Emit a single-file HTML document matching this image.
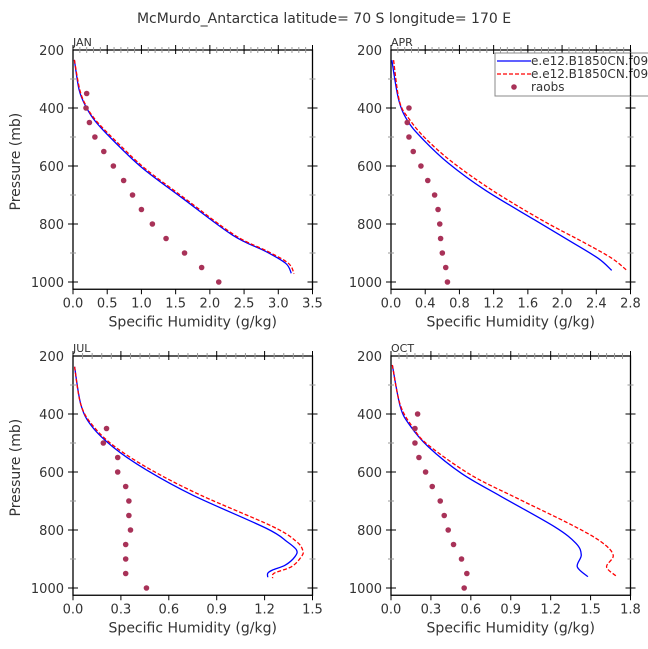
<!DOCTYPE html>
<html><head><meta charset="utf-8"><style>
html,body{margin:0;padding:0;background:#fff;}
svg{display:block;font-family:"DejaVu Sans","Liberation Sans",sans-serif;}
</style></head><body>
<svg id="chart" width="648" height="649" viewBox="0 0 648 649" xmlns="http://www.w3.org/2000/svg">
<text x="324" y="23" text-anchor="middle" font-size="14" fill="#333">McMurdo_Antarctica  latitude= 70 S longitude= 170 E</text>
</svg>
<script>
const months=["JAN","APR","JUL","OCT"];
const xMaxes=[3.5,2.8,1.5,1.8];
const xTickLabels=[["0.0","0.5","1.0","1.5","2.0","2.5","3.0","3.5"],["0.0","0.4","0.8","1.2","1.6","2.0","2.4","2.8"],["0.0","0.3","0.6","0.9","1.2","1.5"],["0.0","0.3","0.6","0.9","1.2","1.5","1.8"]];
const yTickLabels=[200,400,600,800,1000];
const janBlueQ=[0.02,0.09,0.19,0.33,0.63,1.02,1.6,2.33,2.82,3.11,3.19];
const janBlueP=[234,338,396,447,522,608,711,838,895,936,970];
const janRedQ=[0.02,0.1,0.2,0.35,0.66,1.05,1.63,2.36,2.85,3.15,3.23];
const janRedP=[234,338,396,447,522,608,711,838,895,936,972];
const janObsQ=[0.2,0.19,0.24,0.32,0.45,0.59,0.74,0.87,1.0,1.16,1.36,1.63,1.88,2.13];
const janObsP=[350,400,450,500,550,600,650,700,750,800,850,900,950,1000];
const aprBlueQ=[0.01,0.09,0.2,0.38,0.67,1.1,1.68,2.07,2.42,2.58];
const aprBlueP=[235,372,447,510,590,683,786,855,918,960];
const aprRedQ=[0.03,0.1,0.22,0.4,0.71,1.18,1.76,2.27,2.58,2.75];
const aprRedP=[235,378,441,504,585,683,786,866,918,958];
const aprObsQ=[0.21,0.19,0.21,0.26,0.35,0.43,0.51,0.55,0.57,0.58,0.6,0.64,0.66];
const aprObsP=[400,450,500,550,600,650,700,750,800,850,900,950,1000];
const julBlueQ=[0.01,0.05,0.12,0.26,0.46,0.75,1.21,1.34,1.4,1.39,1.33,1.25,1.22,1.22];
const julBlueP=[237,369,444,518,593,680,794,840,869,892,921,938,949,963];
const julRedQ=[0.01,0.05,0.13,0.27,0.5,0.8,1.25,1.4,1.44,1.43,1.37,1.26,1.25];
const julRedP=[237,369,444,516,596,680,788,840,872,892,926,949,966];
const julObsQ=[0.21,0.19,0.28,0.28,0.33,0.35,0.35,0.36,0.33,0.33,0.33,0.46];
const julObsP=[450,500,550,600,650,700,750,800,850,900,950,1000];
const octBlueQ=[0.01,0.07,0.14,0.28,0.53,0.83,1.23,1.39,1.43,1.4,1.48];
const octBlueP=[231,375,438,513,605,685,789,846,886,927,961];
const octRedQ=[0.01,0.07,0.17,0.28,0.6,0.95,1.36,1.58,1.67,1.62,1.69];
const octRedP=[231,369,450,507,610,691,783,841,887,927,958];
const octObsQ=[0.2,0.18,0.18,0.21,0.26,0.31,0.37,0.4,0.43,0.47,0.53,0.57,0.55];
const octObsP=[400,450,500,550,600,650,700,750,800,850,900,950,1000];
const blueQ=[janBlueQ,aprBlueQ,julBlueQ,octBlueQ], blueP=[janBlueP,aprBlueP,julBlueP,octBlueP];
const redQ=[janRedQ,aprRedQ,julRedQ,octRedQ], redP=[janRedP,aprRedP,julRedP,octRedP];
const obsQ=[janObsQ,aprObsQ,julObsQ,octObsQ], obsP=[janObsP,aprObsP,julObsP,octObsP];

const svg=document.getElementById('chart');
const NS='http://www.w3.org/2000/svg';
function mk(tag,attrs,parent){const e=document.createElementNS(NS,tag);for(const k in attrs)e.setAttribute(k,attrs[k]);(parent||svg).appendChild(e);return e;}
function smooth(pts){let d='M'+pts[0][0]+','+pts[0][1];
  for(let i=0;i<pts.length-1;i++){const p0=pts[Math.max(i-1,0)],p1=pts[i],p2=pts[i+1],p3=pts[Math.min(i+2,pts.length-1)];
    const c1=[p1[0]+(p2[0]-p0[0])/6,p1[1]+(p2[1]-p0[1])/6],c2=[p2[0]-(p3[0]-p1[0])/6,p2[1]-(p3[1]-p1[1])/6];
    d+=' C'+c1[0]+','+c1[1]+' '+c2[0]+','+c2[1]+' '+p2[0]+','+p2[1];}
  return d;}
const lefts=[73,391,73,391], tops=[50,50,356,356], W=239.5, PTOP=200, PBOT=1025, PX=232/800;

months.forEach((m,i)=>{
  const L=lefts[i], T=tops[i], xm=xMaxes[i];
  const H=(PBOT-PTOP)*PX;
  const sx=q=>L+q/xm*W, sy=p=>T+(p-PTOP)*PX;
  const g=mk('g',{});
  
  
  const fr=mk('rect',{x:L,y:T,width:W,height:H,fill:'none',stroke:'#000','stroke-width':1.3},g);
  
  
  const lab=mk('text',{x:L,y:T-4,'font-size':11,fill:'#333'},g);lab.textContent=m;
  
  
  for(let p=300;p<=1000;p+=100){
    const y=sy(p), maj=(p%200===0);
    const len=maj?5:3;
    mk('line',{x1:L-len,x2:L+len,y1:y,y2:y,stroke:maj?'#000':'#999','stroke-width':1},g);
    mk('line',{x1:L+W-len,x2:L+W+len,y1:y,y2:y,stroke:maj?'#000':'#999','stroke-width':1},g);
  }
  yTickLabels.forEach(p=>{const t=mk('text',{x:L-9,y:sy(p)+5,'font-size':13,'text-anchor':'end',fill:'#333'},g);t.textContent=p;
    
    });
  const labs=xTickLabels[i], n=labs.length-1;
  for(let k=0;k<=n*5;k++){
    const x=L+k/(n*5)*W, maj=(k%5===0);
    if(maj){mk('line',{x1:x,x2:x,y1:T+H,y2:T+H+5,stroke:'#000'},g);mk('line',{x1:x,x2:x,y1:T-5,y2:T+4,stroke:'#000'},g);}
    else{mk('line',{x1:x,x2:x,y1:T-3,y2:T+3,stroke:'#999'},g);}
  }
  labs.forEach((s,k)=>{const t=mk('text',{x:L+k/n*W,y:T+H+18,'font-size':13,'text-anchor':'middle',fill:'#333'},g);t.textContent=s;
    
    });
  const xt=mk('text',{x:L+W/2,y:T+H+37,'font-size':14,'text-anchor':'middle',fill:'#333'},g);xt.textContent='Specific Humidity (g/kg)';
  
  
  if(i%2===0){const yt=mk('text',{x:0,y:0,'font-size':14,'text-anchor':'middle',fill:'#333',transform:`translate(20,${T+H/2-8}) rotate(-90)`},g);yt.textContent='Pressure (mb)';
    
    }
  const bl=mk('path',{d:smooth(blueQ[i].map((q,k)=>[sx(q),sy(blueP[i][k])])),fill:'none',stroke:'#0000ff','stroke-width':1.3},g);
  
  
  const rl=mk('path',{d:smooth(redQ[i].map((q,k)=>[sx(q),sy(redP[i][k])])),fill:'none',stroke:'#ff0000','stroke-width':1.3,'stroke-dasharray':'4,2'},g);
  
  
  obsQ[i].forEach((q,k)=>{const c=mk('circle',{cx:sx(q),cy:sy(obsP[i][k]),r:2.8,fill:'#a83258'},g);
    
    });
});
const lg=mk('g',{});


mk('rect',{x:495,y:53,width:160,height:43,fill:'#fff',stroke:'#888','stroke-width':1},lg);
mk('line',{x1:497,x2:531,y1:61,y2:61,stroke:'#0000ff','stroke-width':1.3},lg);
mk('line',{x1:497,x2:531,y1:74,y2:74,stroke:'#ff0000','stroke-width':1.3,'stroke-dasharray':'4,2'},lg);
mk('circle',{cx:514,cy:87,r:2.8,fill:'#a83258'},lg);
[['e.e12.B1850CN.f09',65],['e.e12.B1850CN.f09',78],['raobs',91]].forEach(([s,y])=>{const t=mk('text',{x:531,y:y,'font-size':12,fill:'#333'},lg);t.textContent=s;
  
  });
mk('line',{x1:630.5,x2:630.5,y1:53,y2:96,stroke:'#000','stroke-width':1.3},lg);
</script>
</body></html>
